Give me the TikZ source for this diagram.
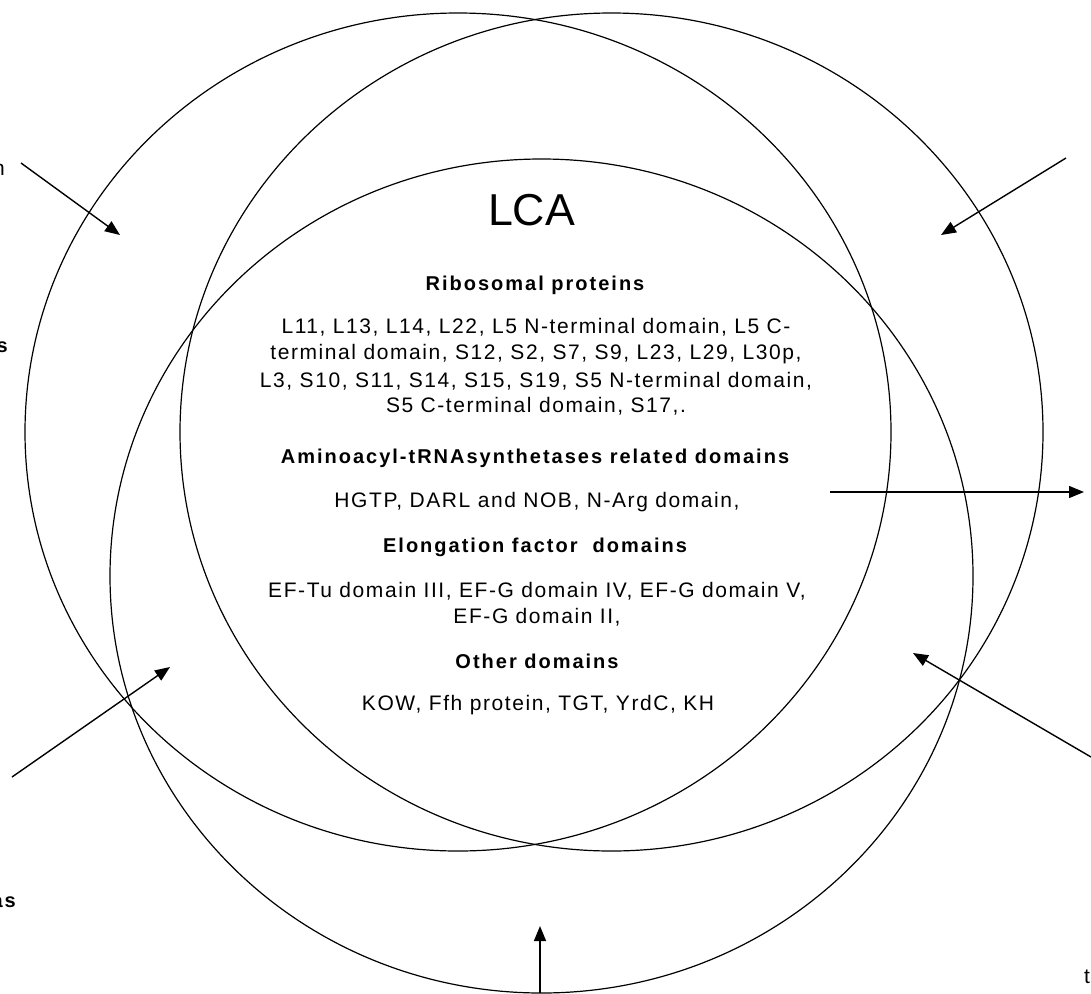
\documentclass[tikz,border=0pt]{standalone}
\usepackage{fontspec}
\setmainfont{Liberation Sans}
\newfontfamily\rtxt[LetterSpace=7.5]{Liberation Sans}
\newfontfamily\btxt[LetterSpace=10]{Liberation Sans}
\usetikzlibrary{arrows.meta}
\begin{document}
\begin{tikzpicture}[x=1pt,y=-1pt,
  ring/.style={draw,line width=1.2pt},
  arr/.style={-{Triangle[length=15pt,width=12pt]},line width=1.4pt},
  body/.style={anchor=base,inner sep=0pt,font=\rtxt\fontsize{21}{25}\selectfont},
  head/.style={anchor=base,inner sep=0pt,font=\btxt\bfseries\fontsize{20}{24}\selectfont},
  edge/.style={inner sep=0pt,font=\rtxt\fontsize{21}{25}\selectfont},
  bedge/.style={inner sep=0pt,font=\btxt\bfseries\fontsize{20}{24}\selectfont}]
\useasboundingbox (0,0) rectangle (1091,993);
\fill[white] (0,0) rectangle (1091,993);
% three overlapping circles
\draw[ring] (458,432) ellipse [x radius=433,y radius=419];
\draw[ring] (611.5,432) ellipse [x radius=431.5,y radius=419];
\draw[ring] (541.5,576) ellipse [x radius=431.5,y radius=417];
% central texts
\node[anchor=base,inner sep=0pt,font=\fontsize{44.7}{50}\selectfont] (lca) at (531.5,225) {LCA};
\node[head] (h1) at (535,290) {Ribosomal proteins};
\node[body] (r1) at (536,333) {L11, L13, L14, L22, L5 N-terminal domain, L5 C-};
\node[body] (r2) at (536,359) {terminal domain, S12, S2, S7, S9, L23, L29, L30p,};
\node[body] (r3) at (536,387) {L3, S10, S11, S14, S15, S19, S5 N-terminal domain,};
\node[body] (r4) at (536,412) {S5 C-terminal domain, S17,.};
\node[head] (h2) at (535,463) {Aminoacyl-tRNAsynthetases related domains};
\node[body] (a1) at (537,507) {HGTP, DARL and NOB, N-Arg domain,};
\node[head] (h3) at (535,552) {Elongation factor\ \ domains};
\node[body] (e1) at (537,597) {EF-Tu domain III, EF-G domain IV, EF-G domain V,};
\node[body] (e2) at (537,623) {EF-G domain II,};
\node[head] (h4) at (537,668) {Other domains};
\node[body] (o1) at (538,710) {KOW, Ffh protein, TGT, YrdC, KH};
% cropped outer labels
\node[edge,anchor=base east] (ln) at (5,175) {n};
\node[bedge,anchor=base east] (ls) at (8,352) {s};
\node[bedge,anchor=base east] (las) at (16,907) {as};
\node[edge,anchor=base west] (rt) at (1084,983) {t};
% arrows
\coordinate (p1s) at (21,163);   \coordinate (p1e) at (120,235);
\coordinate (p2s) at (1066,158); \coordinate (p2e) at (941,235);
\coordinate (p3s) at (830,492);  \coordinate (p3e) at (1084,492);
\coordinate (p4s) at (12,777);   \coordinate (p4e) at (170,667);
\coordinate (p5s) at (1091,757); \coordinate (p5e) at (913,653);
\coordinate (p6s) at (540,993);  \coordinate (p6e) at (540,926);
\draw[arr] (p1s) -- (p1e);
\draw[arr] (p2s) -- (p2e);
\draw[arr] (p3s) -- (p3e);
\draw[arr] (p4s) -- (p4e);
\draw[arr] (p5s) -- (p5e);
\draw[arr] (p6s) -- (p6e);
\end{tikzpicture}
\end{document}
